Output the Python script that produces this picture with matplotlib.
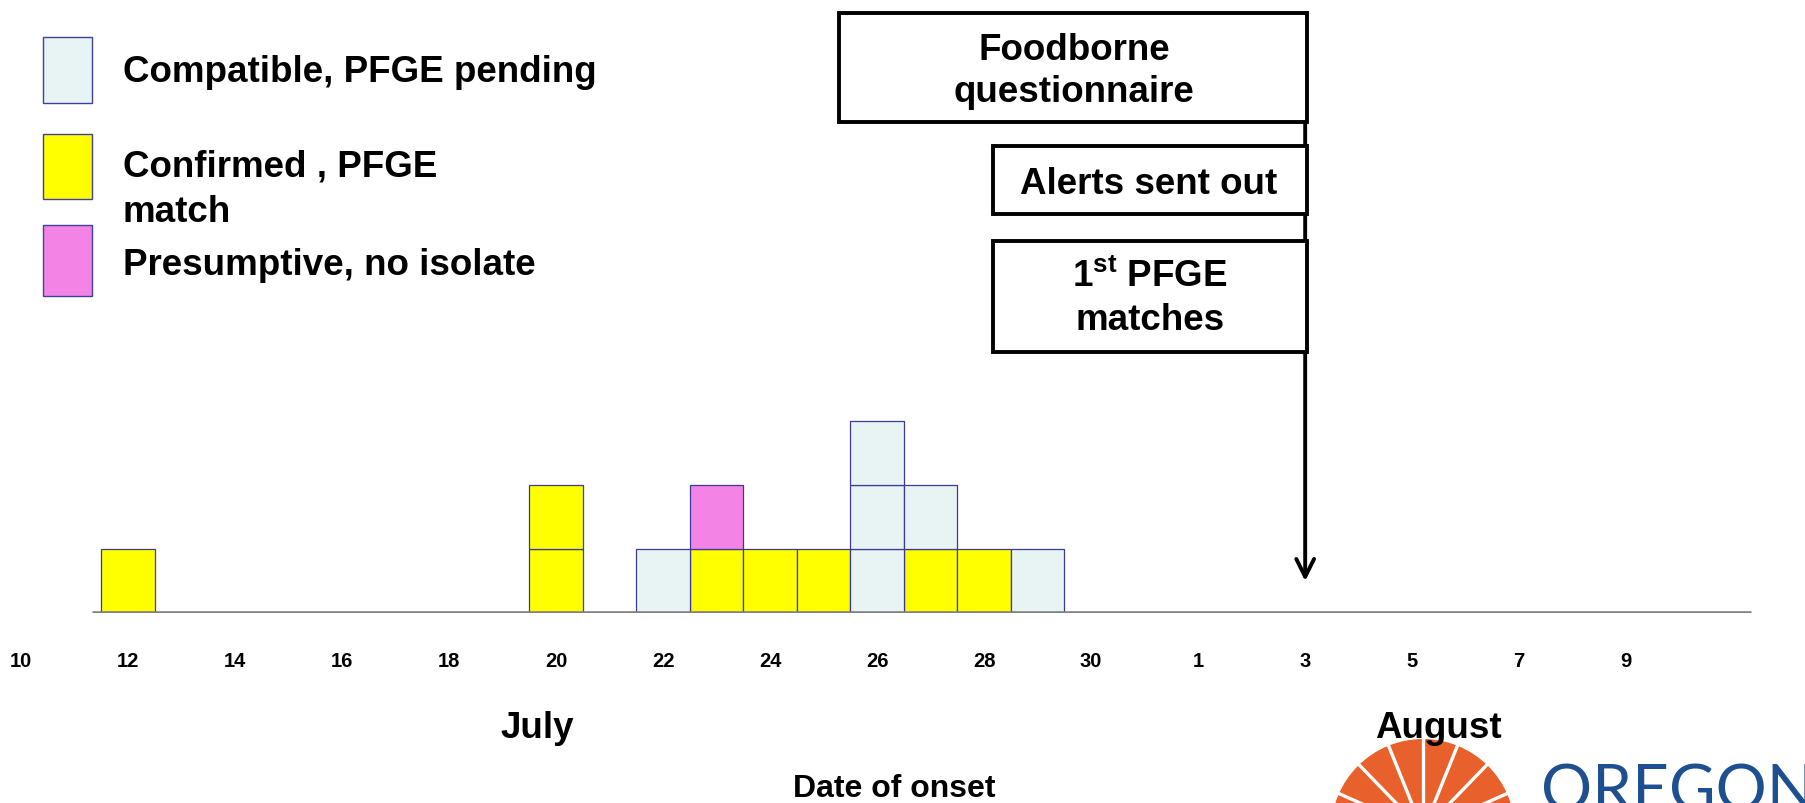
import matplotlib
matplotlib.use("Agg")
import matplotlib.pyplot as plt
from matplotlib.patches import Rectangle, Wedge
import numpy as np

plt.rcParams['font.family'] = ['Liberation Sans', 'DejaVu Sans']
plt.rcParams['mathtext.fontset'] = 'custom'
plt.rcParams['mathtext.rm'] = 'Liberation Sans:bold'
plt.rcParams['mathtext.it'] = 'Liberation Sans:bold'
plt.rcParams['mathtext.bf'] = 'Liberation Sans:bold'

# onset day (July = day number, August 1 = 32 ...)
days = [12, 20, 22, 23, 24, 25, 26, 27, 28, 29]
confirmed = [1, 2, 0, 1, 1, 1, 0, 1, 1, 0]
presumptive = [0, 0, 0, 1, 0, 0, 0, 0, 0, 0]
compatible = [0, 0, 1, 0, 0, 0, 3, 1, 0, 1]

tick_days = [10, 12, 14, 16, 18, 20, 22, 24, 26, 28, 30, 32, 34, 36, 38, 40]
tick_labels = ['10', '12', '14', '16', '18', '20', '22', '24', '26', '28', '30',
               '1', '3', '5', '7', '9']
alert_day = 34  # August 3

series = [('Compatible, PFGE pending', compatible, '#E8F4F4'),
          ('Confirmed , PFGE\nmatch', confirmed, '#FFFF00'),
          ('Presumptive, no isolate', presumptive, '#F384E6')]
stack_order = [1, 2, 0]  # confirmed at bottom, then presumptive, then compatible

W, H = 1806, 804
fig = plt.figure(figsize=(W / 100, H / 100), dpi=100)

ax = fig.add_axes([0, 0.2363, 1, 0.7637])
ax.set_xlim(9.607, 43.36)
ax.set_ylim(0, 9.61)
for s in ax.spines.values():
    s.set_visible(False)
ax.set_yticks([])

bottoms = [0] * len(days)
for idx in stack_order:
    name, vals, col = series[idx]
    for i, d in enumerate(days):
        for k in range(vals[i]):
            ax.bar(d, 1, width=1.0, bottom=bottoms[i], color=col,
                   edgecolor='#3A3A9A', linewidth=0.9, zorder=2)
            bottoms[i] += 1

ax.hlines(0, 11.33, 42.34, color='#808080', linewidth=3.3, zorder=3)
ax.set_xticks(tick_days)
ax.set_xticklabels(tick_labels, fontsize=14.5, fontweight='bold')
ax.tick_params(axis='x', length=0, pad=27)

ax.annotate('', xy=(alert_day, 0.5), xytext=(alert_day, 9.39),
            arrowprops=dict(arrowstyle='->', lw=2.8, color='black',
                            mutation_scale=32, shrinkA=0, shrinkB=0),
            annotation_clip=False)

# overlay in pixel coordinates for legend, notes, labels
ov = fig.add_axes([0, 0, 1, 1], zorder=3)
ov.set_xlim(0, W)
ov.set_ylim(H, 0)
ov.axis('off')

legend_boxes = [(38, 104), (135, 200), (226, 297)]
legend_text_y = [73, 190, 266]
for (name, vals, col), (y0, y1), ty in zip(series, legend_boxes, legend_text_y):
    ov.add_patch(Rectangle((43, y0), 49, y1 - y0, facecolor=col,
                           edgecolor='#3F3F9F', linewidth=1))
    ov.text(123, ty, name, fontsize=26.5, fontweight='bold', va='center',
            ha='left', linespacing=1.38)

note_boxes = [(839, 14, 468, 109), (993, 147, 314, 68), (993, 242, 314, 111)]
for x, y, w, h in note_boxes:
    ov.add_patch(Rectangle((x, y), w, h, facecolor='white',
                           edgecolor='black', linewidth=2.8))
ov.text(1074, 51, 'Foodborne', fontsize=26.5, fontweight='bold', ha='center', va='center')
ov.text(1074, 92, 'questionnaire', fontsize=26.5, fontweight='bold', ha='center', va='center')
ov.text(1149, 184, 'Alerts sent out', fontsize=26.5, fontweight='bold', ha='center', va='center')
ov.text(1150, 277, r'$1^{\mathrm{st}}$ PFGE', fontsize=26.5, fontweight='bold', ha='center', va='center')
ov.text(1150, 321, 'matches', fontsize=26.5, fontweight='bold', ha='center', va='center')

# logo
ov.add_patch(Wedge((1423, 832), 92, 180, 360, facecolor='#E8612C', edgecolor='none'))
for a in np.deg2rad([182, 204, 226, 248, 270, 292, 314, 336, 358]):
    ov.plot([1423 + 8 * np.cos(a), 1423 + 100 * np.cos(a)],
            [832 + 8 * np.sin(a), 832 + 100 * np.sin(a)],
            color='white', linewidth=2.4)
ov.text(1541, 764, 'OREGON', fontsize=46, family='Lato', fontweight='normal',
        color='#1D4F91', ha='left', va='top')

ov.text(537, 729, 'July', fontsize=26.5, fontweight='bold', ha='center', va='center')
ov.text(1438, 729, 'August', fontsize=26.5, fontweight='bold', ha='center', va='center', zorder=5)
ov.text(894, 789, 'Date of onset', fontsize=23, fontweight='bold', ha='center', va='center')

fig.savefig('out.png', dpi=100, facecolor='white')
